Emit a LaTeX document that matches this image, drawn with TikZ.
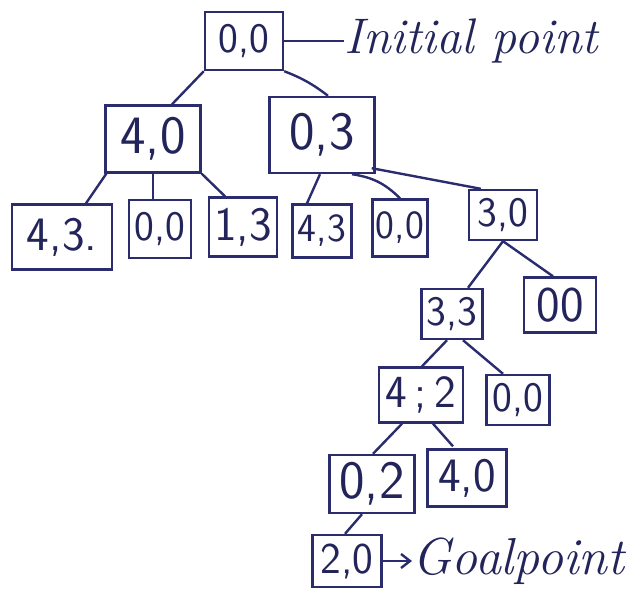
\documentclass[tikz,border=0pt]{standalone}
\usepackage{xcolor}
\usepackage{tikz}
\usetikzlibrary{arrows.meta,calc}
\definecolor{jugInk}{HTML}{23245A}
\definecolor{jugLine}{HTML}{2A2C6E}
\tikzset{
  statebox/.style={
    rectangle,
    draw=jugLine,
    line width=2.4pt,
    inner sep=0pt,
    text=jugInk,
    font=\fontsize{48}{52}\selectfont\sffamily
  },
  branch/.style={
    line width=2.4pt,
    draw=jugLine
  },
  note/.style={
    text=jugInk,
    inner sep=0pt,
    font=\fontsize{50}{56}\selectfont\itshape
  },
  goalArrow/.style={
    -{Straight Barb[length=9pt,width=14pt,line width=2.4pt]},
    line width=2.4pt,
    draw=jugLine
  }
}

\begin{document}
\begin{tikzpicture}[x=1pt,y=-1pt]
  \useasboundingbox (0,0) rectangle (643,597);
  % root and first level
  \node[statebox,minimum width=78,minimum height=58,font=\fontsize{42}{46}\selectfont\sffamily] (root) at (244,41) {0,0};
  \node[note,anchor=west] (initial) at (344,41) {Initial point};
  \node[statebox,minimum width=95,minimum height=67,font=\fontsize{54}{58}\selectfont\sffamily] (fourZero) at (153,139) {4,0};
  \node[statebox,minimum width=105,minimum height=76,font=\fontsize{54}{58}\selectfont\sffamily] (zeroThree) at (322,135) {0,3};
  % second level
  \node[statebox,minimum width=100,minimum height=65] (fourThreeA) at (62,237) {4,3.};
  \node[statebox,minimum width=62,minimum height=58,font=\fontsize{42}{46}\selectfont\sffamily] (zeroZeroA) at (160,229) {0,0};
  \node[statebox,minimum width=68,minimum height=59] (oneThree) at (243,227) {1,3};
  \node[statebox,minimum width=59,minimum height=53,font=\fontsize{40}{44}\selectfont\sffamily] (fourThreeB) at (322,231) {4,3};
  \node[statebox,minimum width=55,minimum height=57,font=\fontsize{40}{44}\selectfont\sffamily] (zeroZeroB) at (400,228) {0,0};
  \node[statebox,minimum width=68,minimum height=50,font=\fontsize{42}{46}\selectfont\sffamily] (threeZero) at (503,215) {3,0};
  % lower levels
  \node[statebox,minimum width=61,minimum height=50,font=\fontsize{42}{46}\selectfont\sffamily] (threeThree) at (452,314) {3,3};
  \node[statebox,minimum width=72,minimum height=55,font=\fontsize{50}{54}\selectfont\sffamily] (zeroZeroC) at (560,305) {00};
  \node[statebox,minimum width=84,minimum height=55,font=\fontsize{46}{50}\selectfont\sffamily] (fourTwo) at (421,395) {4\,;\,2};
  \node[statebox,minimum width=63,minimum height=50,font=\fontsize{42}{46}\selectfont\sffamily] (zeroZeroD) at (518,400) {0,0};
  \node[statebox,minimum width=85,minimum height=58,font=\fontsize{54}{58}\selectfont\sffamily] (zeroTwo) at (372,484) {0,2};
  \node[statebox,minimum width=79,minimum height=57] (fourZeroB) at (467,478) {4,0};
  \node[statebox,minimum width=69,minimum height=52,font=\fontsize{44}{48}\selectfont\sffamily] (twoZero) at (347,561) {2,0};
  \node[note,anchor=west,font=\fontsize{52}{58}\selectfont\itshape] (goal) at (412,561) {Goalpoint};
  % connectors
  \draw[branch] (root.east) -- (initial.west);
  \draw[branch] (root.south west) -- ($(fourZero.north)+(19,0)$);
  \draw[branch] (root.south east) to[bend left=8] ($(zeroThree.north)+(6,0)$);
  \draw[branch] ($(fourZero.south west)+(2,0)$) -- ($(fourThreeA.north)+(24,0)$);
  \draw[branch] (fourZero.south) -- (fourZero.south |- zeroZeroA.north);
  \draw[branch] (fourZero.south east) -- ($(oneThree.north)+(-18,0)$);
  \draw[branch] ($(zeroThree.south)+(-2,0)$) -- ($(fourThreeB.north)+(-15,0)$);
  \draw[branch] ($(zeroThree.south)+(30,0)$) to[bend left=18] (zeroZeroB.north);
  \draw[branch] ($(zeroThree.south east)+(-4,-6)$) -- ($(threeZero.north west)+(13,0)$);
  \draw[branch] (threeZero.south) -- ($(threeThree.north)+(16,0)$);
  \draw[branch] (threeZero.south) -- ($(zeroZeroC.north)+(-7,0)$);
  \draw[branch] ($(threeThree.south)+(-5,0)$) -- ($(fourTwo.north)+(1,0)$);
  \draw[branch] ($(threeThree.south)+(11,0)$) -- ($(zeroZeroD.north)+(-15,0)$);
  \draw[branch] ($(fourTwo.south)+(-19,0)$) -- ($(zeroTwo.north)+(1,0)$);
  \draw[branch] ($(fourTwo.south)+(12,0)$) -- ($(fourZeroB.north)+(-14,-2)$);
  \draw[branch] ($(zeroTwo.south)+(-10,0)$) -- ($(twoZero.north)+(-2,0)$);
  \draw[goalArrow] (twoZero.east) -- (goal.west);
\end{tikzpicture}
\end{document}
